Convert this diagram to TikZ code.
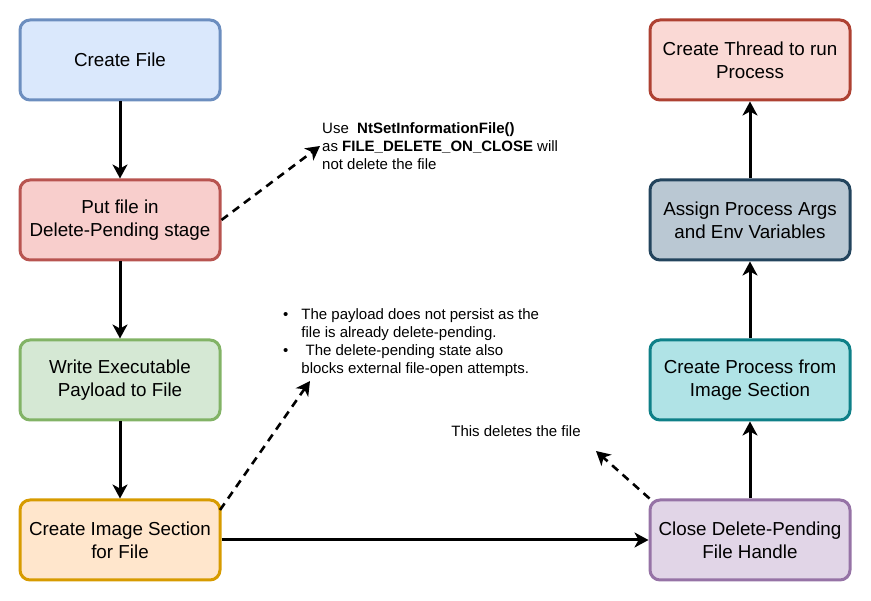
\documentclass[tikz,border=0pt]{standalone}
\usepackage{fontspec}
\setmainfont{Liberation Sans}
\usetikzlibrary{arrows.meta}

\definecolor{blueF}{HTML}{DAE8FC}\definecolor{blueD}{HTML}{6C8EBF}
\definecolor{redF}{HTML}{F8CECC}\definecolor{redD}{HTML}{B85450}
\definecolor{greenF}{HTML}{D5E8D4}\definecolor{greenD}{HTML}{82B366}
\definecolor{orangeF}{HTML}{FFE6CC}\definecolor{orangeD}{HTML}{D79B00}
\definecolor{purpleF}{HTML}{E1D5E7}\definecolor{purpleD}{HTML}{9673A6}
\definecolor{tealF}{HTML}{B0E3E6}\definecolor{tealD}{HTML}{0E8088}
\definecolor{slateF}{HTML}{BAC8D3}\definecolor{slateD}{HTML}{23445D}
\definecolor{roseF}{HTML}{FAD9D5}\definecolor{roseD}{HTML}{AE4132}

\begin{document}
\begin{tikzpicture}[
x=1pt, y=-1pt,
font=\fontsize{18.8}{23}\selectfont
]

\tikzstyle{b} = [draw, shape=rectangle, rounded corners=10pt, line width=3pt, minimum width=200pt, minimum height=80pt, align=center, inner sep=2pt]
\tikzstyle{note} = [anchor=north west, align=left, inner sep=0pt, font=\fontsize{15}{18}\selectfont]
\tikzstyle{go} = [line width=3pt, -{Stealth[length=14pt,width=15pt,inset=4pt]}]
\tikzstyle{hint} = [go, line width=2.6pt, dash pattern=on 8pt off 6pt]

\useasboundingbox (0,0) rectangle (871,601);

% left column
\node[b, fill=blueF, draw=blueD] (cf) at (120,60) {Create File};
\node[b, fill=redF, draw=redD] (pend) at (120,220) {Put file in\\Delete-Pending stage};
\node[b, fill=greenF, draw=greenD] (wr) at (120,380) {Write Executable\\Payload to File};
\node[b, fill=orangeF, draw=orangeD] (sec) at (120,540) {Create Image Section\\for File};

% right column
\node[b, fill=purpleF, draw=purpleD] (cls) at (750,540) {Close Delete-Pending\\File Handle};
\node[b, fill=tealF, draw=tealD] (proc) at (750,380) {Create Process from\\Image Section};
\node[b, fill=slateF, draw=slateD] (args) at (750,220) {Assign Process Args\\and Env Variables};
\node[b, fill=roseF, draw=roseD] (thr) at (750,60) {Create Thread to run\\Process};

% notes
\node[note] (n1) at (322,122) {Use\ \ \textbf{NtSetInformationFile()}\\as \textbf{FILE\_DELETE\_ON\_CLOSE} will\\not delete the file};
\node[note] (n2) at (283,307) {\begin{tabular}{@{}l@{\hspace{13pt}}l@{}}
\textbullet & The payload does not persist as the\\
 & file is already delete-pending.\\
\textbullet & \ The delete-pending state also\\
 & blocks external file-open attempts.
\end{tabular}};
\node[note, anchor=center] (n3) at (516,431) {This deletes the file};

\coordinate (t1) at (320,146);
\coordinate (t2) at (310,381);
\coordinate (t3) at (596,451);

\draw[go] (cf) -- (pend);
\draw[go] (pend) -- (wr);
\draw[go] (wr) -- (sec);
\draw[go] (sec) -- (cls);
\draw[go] (cls) -- (proc);
\draw[go] (proc) -- (args);
\draw[go] (args) -- (thr);

\draw[hint] (pend.east) -- (t1);
\draw[hint] (220,510) -- (t2);
\draw[hint] (cls.north west) ++(1,0) -- (t3);

\end{tikzpicture}
\end{document}
